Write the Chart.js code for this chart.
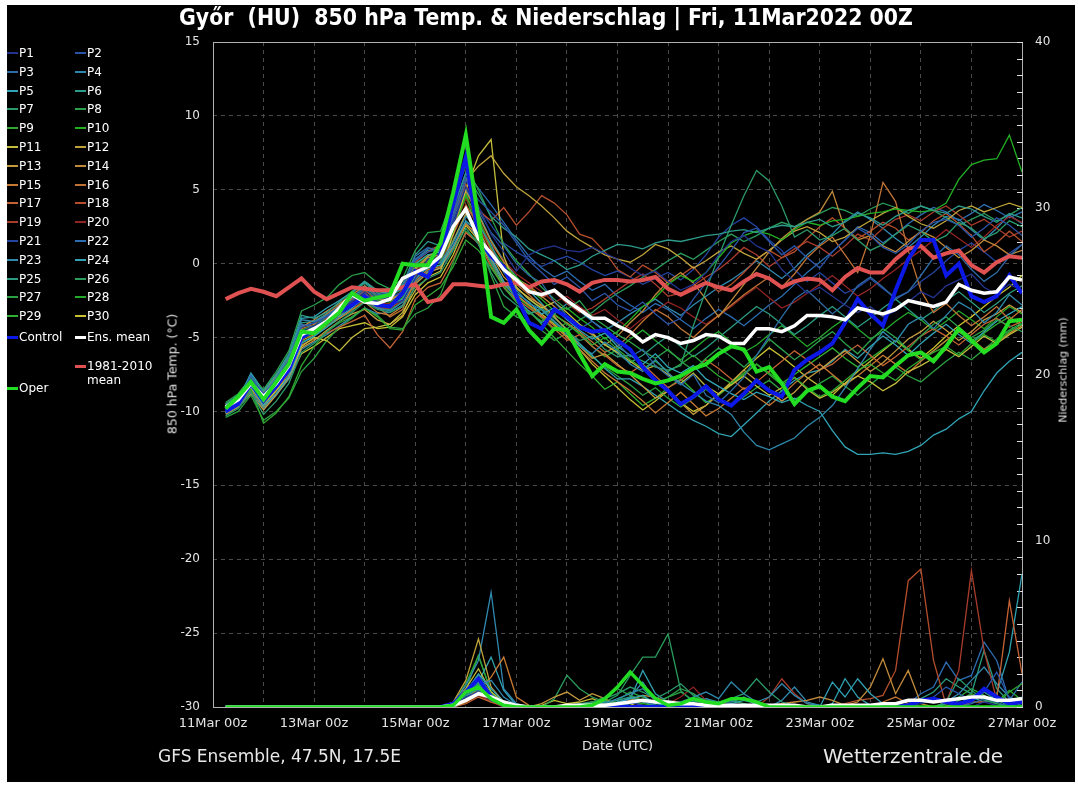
<!DOCTYPE html>
<html>
<head>
<meta charset="utf-8">
<script src="https://cdn.jsdelivr.net/npm/chart.js@4.4.1/dist/chart.umd.min.js"></script>
<style>
  body { margin: 0; background: #fff; width: 1078px; height: 785px; overflow: hidden; font-family: "DejaVu Sans", sans-serif; }
  #panel { position: absolute; left: 7px; top: 5px; width: 1068px; height: 777px; background: #000; }
  #wrap { position: absolute; left: 0; top: 0; width: 1078px; height: 785px; }
  .txt { position: absolute; color: #fff; white-space: nowrap; }
  #title { left: 546px; top: 4px; transform: translateX(-50%) scaleX(0.91); font-weight: bold; font-size: 22.5px; }
  #foot1 { left: 158px; top: 746px; font-size: 17px; color: #e8e8e8; }
  #foot2 { left: 823px; top: 744px; font-size: 20px; color: #e8e8e8; }
  .vlab { position: absolute; color: #e0e0e0; white-space: nowrap; transform: translate(-50%, -50%) rotate(-90deg); }
  #ylab { left: 172px; top: 374px; font-size: 12.5px; }
  #y2lab { left: 1063px; top: 370px; font-size: 11px; }
  .leg { position: absolute; color: #fff; font-size: 12px; line-height: 14px; white-space: nowrap; }
  .mark { position: absolute; height: 2px; }
</style>
</head>
<body>
<div id="panel"></div>
<div id="wrap"><canvas id="c"></canvas></div>
<div id="title" class="txt">Győr&nbsp;&nbsp;(HU)&nbsp;&nbsp;850 hPa Temp. &amp; Niederschlag | Fri, 11Mar2022 00Z</div>
<div id="ylab" class="vlab">850 hPa Temp. (°C)</div>
<div id="y2lab" class="vlab">Niederschlag (mm)</div>
<div id="foot1" class="txt">GFS Ensemble, 47.5N, 17.5E</div>
<div id="foot2" class="txt">Wetterzentrale.de</div>
<div id="legend"></div>
<script>
// forecast lead time (hours after 11Mar2022 00Z)
const leadHours = [6,12,18,24,30,36,42,48,54,60,66,72,78,84,90,96,102,108,114,120,126,132,138,144,150,156,162,168,174,180,186,192,198,204,210,216,222,228,234,240,246,252,258,264,270,276,282,288,294,300,306,312,318,324,330,336,342,348,354,360,366,372,378,384];
const xTickLabels = ['11Mar 00z','13Mar 00z','15Mar 00z','17Mar 00z','19Mar 00z','21Mar 00z','23Mar 00z','25Mar 00z','27Mar 00z'];

// 850 hPa temperature (°C)
const tControl = [-10.0,-9.5,-8.1,-9.3,-8.3,-7.2,-5.0,-4.5, -4.0,-3.3,-2.8,-2.2,-2.8,-2.9,-2.0,-0.5, -0.9,0.6,4.0,7.2,1.8,0.5,-0.2,-2.2, -4.0,-4.4,-3.1,-3.6,-4.3,-4.6,-4.5,-5.2, -5.8,-7.0,-7.9,-8.6,-9.5,-9.0,-8.3,-9.2, -9.6,-8.8,-7.9,-8.6,-9.0,-7.2,-6.5,-6.0, -5.4,-4.0,-2.4,-3.4,-4.2,-1.8,0.3,1.6, 1.6,-0.8,0.0,-2.2,-2.6,-2.2,-0.8,-2.0];
const tMean = [-9.7,-9.2,-8.1,-9.0,-8.1,-6.9,-4.8,-4.4, -3.9,-3.0,-2.1,-2.6,-2.7,-2.4,-1.0,-0.6, -0.2,0.5,2.5,3.7,1.7,0.7,-0.4,-1.1, -1.9,-2.1,-1.8,-2.5,-3.1,-3.7,-3.7,-4.2, -4.6,-5.3,-4.8,-5.0,-5.4,-5.2,-4.8,-4.9, -5.4,-5.4,-4.4,-4.4,-4.6,-4.2,-3.5,-3.5, -3.6,-3.8,-3.0,-3.2,-3.4,-3.1,-2.5,-2.7, -2.9,-2.6,-1.4,-1.8,-2.0,-1.9,-0.9,-1.1];
const tClimate = [-2.4,-2.0,-1.7,-1.9,-2.2,-1.6,-1.0,-1.9, -2.4,-2.0,-1.6,-1.7,-1.8,-1.8,-1.6,-1.4, -2.6,-2.4,-1.4,-1.4,-1.5,-1.6,-1.4,-1.3, -1.6,-1.2,-1.1,-1.4,-1.9,-1.3,-1.1,-1.1, -1.2,-1.1,-0.9,-1.7,-2.1,-1.7,-1.3,-1.6, -1.8,-1.2,-0.7,-1.0,-1.6,-1.2,-1.0,-1.1, -1.8,-0.9,-0.3,-0.6,-0.6,0.3,1.0,1.2, 0.4,0.7,0.9,-0.1,-0.6,0.1,0.5,0.4];
const tOper = [-9.8,-9.0,-8.0,-9.2,-8.0,-6.8,-4.6,-4.7, -4.0,-3.3,-2.0,-2.5,-2.3,-2.1,0.0,-0.1, -0.1,1.4,4.8,8.7,3.0,-3.6,-4.0,-3.1, -4.5,-5.4,-4.4,-4.5,-6.1,-7.6,-6.8,-7.3, -7.4,-7.8,-8.1,-7.9,-7.6,-7.1,-6.8,-6.1, -5.6,-5.8,-7.3,-7.0,-8.1,-9.5,-8.6,-8.3, -9.0,-9.3,-8.4,-7.6,-7.7,-6.9,-6.2,-6.0, -6.6,-5.6,-4.4,-5.2,-6.0,-5.4,-3.9,-3.8];

const tP01 = [-9.9,-9.4,-8.0,-9.2,-8.3,-7.0,-4.6,-4.2, -3.8,-3.1,-2.6,-1.9,-2.7,-2.8,-2.5,-1.0, 0.3,0.4,2.6,5.2,3.9,2.0,0.8,-0.5, 0.6,1.0,1.2,0.9,0.8,1.1,0.7,0.3, -0.3,-0.8,-0.5,-1.2,-1.8,-1.4,-0.6,0.6, 1.5,1.9,1.2,0.8,-0.4,-1.2,-2.0,-1.6, -2.2,-2.8,-3.3,-2.9,-3.6,-3.2,-2.6,-1.9, -2.3,-1.5,-1.1,-0.7,-1.6,-2.1,-1.4,-1.8];
const tP02 = [-9.6,-9.0,-7.8,-8.8,-7.9,-6.6,-4.3,-4.0, -3.6,-3.0,-2.5,-1.7,-2.4,-2.3,-1.9,0.2, 0.8,1.0,3.1,5.6,4.3,3.5,2.6,1.4, 0.2,-0.6,-1.4,-0.9,-1.6,-2.5,-2.0,-2.8, -3.2,-2.6,-3.4,-4.1,-3.7,-2.4,-1.3,-0.2, 0.9,2.1,2.4,1.5,0.6,1.2,0.4,-0.3, 0.8,1.6,2.4,1.9,1.1,0.7,1.3,2.2, 2.8,3.0,2.6,1.8,2.4,3.1,2.6,1.9];
const tP03 = [-9.8,-9.3,-7.6,-9.1,-7.8,-6.5,-4.1,-4.3, -3.5,-2.9,-2.3,-1.6,-2.2,-2.1,-1.6,0.5, 1.1,0.8,3.3,5.9,3.6,2.1,1.2,0.0, -0.8,-1.3,-2.6,-3.5,-4.4,-3.9,-4.6,-5.4, -6.3,-5.8,-6.9,-7.6,-8.2,-7.5,-8.9,-9.4, -8.6,-7.7,-6.2,-4.9,-3.6,-2.4,-1.8,-2.6, -3.4,-2.7,-1.5,-0.9,-1.6,-2.4,-1.9,-0.8, 0.4,1.2,0.6,-0.4,-1.2,-0.6,0.5,1.3];
const tP04 = [-9.7,-9.1,-7.5,-8.8,-7.7,-6.3,-3.8,-3.9, -3.5,-3.1,-2.8,-2.4,-3.0,-3.2,-2.6,-1.1, -0.2,0.1,1.4,3.2,2.6,1.3,-0.6,-1.8, -2.7,-3.1,-3.9,-4.8,-5.6,-6.1,-5.3,-5.9, -6.8,-7.3,-6.5,-7.4,-8.1,-8.7,-9.3,-9.6, -10.2,-11.4,-12.3,-12.6,-12.2,-11.8,-11.0,-10.4, -9.6,-8.4,-7.1,-5.8,-4.6,-5.3,-4.1,-3.6, -4.4,-3.5,-2.6,-3.1,-4.0,-3.3,-2.1,-2.8];
const tP05 = [-10.1,-9.6,-8.3,-9.6,-8.8,-7.6,-5.4,-4.9, -4.3,-3.6,-3.0,-2.3,-2.8,-2.9,-2.4,-0.9, -0.3,-0.1,1.2,2.9,2.1,0.4,-1.2,-2.0, -2.6,-3.4,-3.0,-3.8,-4.5,-5.1,-4.7,-5.6, -6.2,-6.8,-6.1,-7.0,-7.4,-6.9,-7.8,-8.3, -8.8,-9.2,-8.7,-9.0,-9.4,-9.1,-9.6,-10.0, -11.3,-12.4,-12.9,-12.9,-12.8,-12.9,-12.7,-12.3, -11.6,-11.2,-10.5,-10.0,-8.6,-7.4,-6.6,-6.0];
const tP06 = [-9.5,-8.9,-7.9,-8.6,-7.5,-6.2,-3.5,-3.7, -3.3,-2.6,-1.9,-1.2,-1.8,-1.7,-1.4,0.6, 1.5,1.2,3.8,6.1,4.7,3.2,2.4,1.8, 1.0,0.6,0.2,-0.4,-0.1,0.5,0.9,1.3, 1.2,1.0,1.4,1.6,1.5,1.7,1.9,2.0, 2.2,2.3,2.1,2.4,2.6,2.5,2.8,3.0, 2.5,2.8,3.4,3.1,2.6,3.2,3.6,3.9, 3.6,3.4,3.9,3.7,3.2,2.8,3.4,3.1];
const tP07 = [-10.3,-9.8,-8.7,-10.2,-9.3,-8.1,-6.0,-5.4, -4.6,-3.9,-3.3,-2.6,-3.1,-3.3,-2.9,-1.6, -1.0,-0.6,0.9,2.4,1.3,-0.6,-2.1,-2.8, -3.4,-3.1,-4.0,-4.6,-5.2,-4.9,-5.8,-6.3, -6.2,-6.6,-7.0,-7.2,-6.9,-4.2,-1.8,0.5, 2.6,4.6,6.3,5.6,3.9,1.8,2.3,1.6, 1.9,2.4,1.6,0.9,1.3,2.0,2.6,2.2, 1.5,1.9,2.8,2.4,1.7,2.1,2.9,2.5];
const tP08 = [-9.4,-8.8,-7.7,-8.5,-7.3,-5.9,-3.2,-2.8, -2.3,-1.4,-0.8,-0.6,-1.3,-1.7,-1.0,0.9, 2.1,2.2,4.5,6.6,5.0,3.1,1.3,0.2, -0.7,-1.6,-2.4,-3.1,-2.5,-3.6,-4.2,-4.8, -5.3,-5.9,-6.4,-5.8,-6.6,-7.2,-6.4,-5.7, -6.3,-7.0,-6.2,-5.1,-5.8,-6.5,-5.9,-5.2, -4.6,-5.4,-6.1,-5.2,-4.4,-5.0,-5.8,-4.9, -4.1,-3.6,-4.3,-5.0,-4.5,-3.8,-4.2,-4.6];
const tP09 = [-10.0,-9.5,-8.5,-10.8,-10.1,-9.0,-6.9,-5.6, -4.6,-4.0,-3.6,-3.0,-3.6,-4.4,-4.5,-2.8, -2.2,-1.6,-0.2,1.6,0.9,-0.3,-1.5,-2.6, -3.3,-3.9,-3.4,-4.1,-4.7,-5.5,-5.0,-5.8, -6.5,-7.1,-6.6,-7.3,-6.8,-6.2,-6.9,-7.6, -8.1,-7.4,-6.8,-7.5,-8.2,-7.7,-8.4,-9.0, -8.6,-7.9,-7.2,-6.8,-7.4,-7.9,-7.1,-6.5, -6.0,-5.6,-6.2,-5.4,-4.8,-5.3,-4.6,-4.1];
const tP10 = [-9.8,-9.3,-8.2,-9.4,-8.4,-7.2,-5.1,-4.7, -4.1,-3.4,-2.9,-2.2,-2.8,-2.9,-2.3,-0.7, 0.0,0.2,2.2,4.6,3.0,1.1,-0.1,-0.9, -1.7,-2.4,-3.2,-3.0,-3.7,-4.3,-5.1,-4.6, -3.8,-2.9,-2.3,-1.4,-0.8,-1.2,-0.6,0.4, 1.4,1.9,2.2,2.0,1.6,2.3,2.8,2.6, 2.9,3.0,3.2,3.4,3.5,3.7,3.6,3.5, 3.6,4.1,5.7,6.7,7.0,7.1,8.7,6.2];
const tP11 = [-10.0,-9.6,-8.4,-9.5,-8.6,-7.6,-5.6,-5.0, -5.2,-5.9,-5.0,-4.4,-4.3,-4.1,-3.3,-1.8, -0.9,-0.5,2.0,5.0,7.3,8.4,0.5,-1.6, -2.4,-3.0,-2.6,-3.3,-4.1,-4.7,-5.5,-6.0, -6.6,-7.2,-6.9,-7.5,-8.1,-7.4,-8.3,-8.8, -8.2,-7.6,-8.3,-8.9,-8.4,-7.7,-8.5,-9.1, -8.7,-8.1,-7.6,-8.0,-8.6,-8.1,-7.3,-6.9, -6.4,-5.8,-6.3,-5.6,-4.9,-5.4,-4.8,-4.3];
const tP12 = [-9.7,-9.2,-8.2,-9.1,-8.0,-6.8,-4.6,-4.5, -4.0,-3.5,-2.8,-2.1,-2.4,-2.5,-2.0,-0.3, 0.5,0.9,3.4,5.6,6.6,7.3,6.1,5.2, 4.6,3.9,3.1,2.2,1.6,1.1,0.6,0.3, 0.1,0.6,1.3,1.0,0.4,-0.3,0.2,0.8, 1.2,0.7,0.3,0.9,1.6,2.2,2.5,2.1, 1.5,1.8,2.4,2.9,3.4,3.8,3.2,2.7, 2.4,2.9,3.6,3.9,3.5,3.8,4.1,3.8];
const tP13 = [-10.2,-9.7,-8.8,-9.9,-8.9,-7.7,-5.7,-5.2, -4.5,-3.9,-3.4,-3.1,-3.8,-4.1,-3.5,-1.4, -0.6,-0.3,1.5,3.4,2.3,0.6,-0.9,-1.7, -2.3,-2.8,-3.6,-4.5,-5.6,-6.4,-6.1,-6.8, -7.5,-8.3,-9.1,-8.6,-9.4,-10.2,-9.6,-8.8, -8.1,-7.2,-7.9,-8.6,-9.3,-8.7,-7.8,-7.2, -6.5,-5.9,-6.6,-7.3,-6.7,-5.9,-5.1,-4.6, -3.9,-4.5,-5.2,-4.6,-3.8,-3.4,-2.8,-3.3];
const tP14 = [-9.5,-9.0,-7.9,-8.7,-7.6,-6.4,-4.3,-3.8, -3.2,-2.7,-2.1,-1.5,-2.2,-2.4,-2.0,-0.4, 0.4,0.6,2.4,4.9,3.3,1.5,0.1,-1.0, -1.5,-2.2,-2.9,-3.7,-4.3,-4.8,-5.5,-4.9, -4.0,-3.2,-2.1,-1.2,-0.6,-1.3,-2.4,-3.6, -2.5,-1.4,-0.3,0.8,1.7,2.4,3.0,3.5, 4.9,2.3,1.6,1.9,1.2,0.8,1.5,2.2, 1.8,1.1,0.4,0.9,1.6,1.2,0.6,0.9];
const tP15 = [-9.9,-9.4,-8.3,-9.3,-8.2,-7.1,-5.2,-4.8, -4.2,-3.7,-3.1,-2.6,-3.3,-3.5,-2.9,-1.2, -0.4,-0.2,1.1,2.7,1.9,0.3,-1.2,-2.1, -2.8,-3.5,-4.2,-5.0,-5.8,-6.6,-7.4,-8.0, -8.6,-9.3,-10.1,-9.4,-8.7,-9.5,-10.3,-9.8, -9.1,-8.4,-9.0,-9.6,-8.9,-8.1,-7.4,-6.8, -7.5,-8.2,-7.6,-6.9,-6.2,-6.8,-7.4,-6.6, -5.9,-5.2,-4.6,-5.1,-5.8,-5.3,-4.7,-4.2];
const tP16 = [-9.6,-9.1,-8.0,-8.9,-7.8,-6.5,-4.4,-4.1, -3.4,-2.8,-2.4,-1.9,-2.9,-3.6,-3.1,-1.0, 0.2,0.5,2.0,3.9,2.8,1.0,-0.4,-1.4, -2.1,-2.9,-3.5,-4.0,-4.6,-5.3,-6.0,-5.6, -4.8,-3.9,-3.1,-3.6,-4.4,-5.0,-4.2,-3.5, -2.8,-2.1,-1.5,-0.9,-1.6,-0.7,0.4,1.2, 1.8,0.6,-0.6,1.9,5.5,4.2,0.9,-1.8, -3.3,-2.7,-3.5,-4.2,-3.6,-2.9,-3.8,-3.1];
const tP17 = [-10.0,-9.6,-8.5,-9.6,-8.6,-7.4,-5.5,-5.1, -4.7,-4.3,-3.9,-3.5,-4.8,-5.7,-4.6,-2.4, -1.6,-1.3,0.3,2.1,1.4,-0.2,-1.6,-2.4, -3.0,-3.6,-4.4,-5.2,-4.8,-5.6,-6.2,-6.9, -7.4,-6.8,-7.6,-8.4,-7.9,-7.2,-6.5,-7.1, -7.8,-8.5,-8.0,-7.3,-6.6,-5.9,-6.5,-7.2, -6.8,-6.1,-5.5,-6.2,-6.9,-6.3,-5.6,-4.9, -4.4,-4.9,-5.5,-4.8,-4.1,-3.7,-4.3,-3.9];
const tP18 = [-9.7,-9.2,-8.1,-9.1,-8.2,-7.0,-4.9,-4.5, -3.7,-3.2,-2.6,-1.8,-2.4,-2.5,-1.8,0.1, 0.8,1.3,3.2,5.4,3.6,2.9,3.8,2.6, 3.5,4.6,4.1,3.3,2.0,1.7,0.8,-0.4, -0.9,-0.1,-0.6,-1.3,-0.8,-0.2,-1.2,-1.9, -1.4,-0.6,0.3,0.9,0.4,0.8,1.7,2.5, 3.1,2.4,1.7,2.2,2.8,2.4,1.6,2.1, 2.9,3.4,2.7,1.9,0.8,1.4,2.2,1.5];
const tP19 = [-9.8,-9.3,-8.2,-9.2,-8.3,-7.2,-5.1,-4.6, -4.1,-3.6,-3.1,-2.5,-3.0,-3.0,-2.5,-0.8, -0.1,0.1,1.9,4.0,2.5,0.9,-0.3,-1.2, -1.6,-2.3,-1.9,-2.7,-3.3,-3.0,-2.4,-1.8, -1.2,-0.7,-1.4,-2.2,-2.0,-1.5,-0.9,-0.4, 0.3,1.1,0.6,-0.2,0.4,1.0,1.5,1.1, 0.5,1.2,2.0,1.6,2.4,3.0,3.3,2.9, 3.5,3.9,3.3,2.6,3.0,2.4,1.8,2.2];
const tP20 = [-9.6,-9.1,-8.0,-8.9,-8.0,-6.8,-4.7,-4.4, -3.9,-3.3,-2.7,-2.1,-2.7,-2.7,-2.2,-0.5, 0.1,0.3,2.3,4.4,3.0,1.3,0.2,-0.7, -1.3,-1.9,-2.6,-2.2,-2.9,-3.5,-3.1,-3.8, -4.4,-3.7,-3.2,-2.6,-3.0,-3.6,-4.1,-3.5, -2.9,-2.2,-1.6,-2.3,-3.0,-2.6,-2.0,-1.4, -0.8,-1.5,-2.2,-1.7,-1.0,-0.4,0.3,0.9, 1.6,2.3,1.7,1.1,1.8,2.6,3.2,2.8];
const tP21 = [-9.9,-9.5,-8.3,-9.4,-8.5,-7.3,-5.0,-4.6, -4.0,-3.4,-2.8,-2.0,-2.6,-2.5,-2.0,-0.4, 0.5,0.7,2.9,5.1,3.8,2.6,1.4,0.8, 0.3,-0.2,0.2,0.5,0.1,-0.4,-0.8,-0.5, -0.9,-1.4,-1.0,-0.6,-1.1,-0.4,0.6,1.8, 2.6,3.1,2.5,1.6,0.9,-0.4,-1.2,-0.6, -1.3,-2.0,-1.6,-1.0,-1.7,-2.3,-1.9,-1.2, -0.6,0.2,0.9,1.4,0.8,0.1,0.7,1.3];
const tP22 = [-9.5,-9.0,-7.7,-8.7,-7.6,-6.4,-4.2,-4.0, -3.5,-2.9,-2.3,-1.5,-2.1,-2.0,-1.5,0.3, 1.0,1.1,3.6,6.2,5.1,4.0,2.8,1.6, 0.5,-0.3,-0.9,-0.5,-1.2,-1.8,-1.4,-2.2, -2.8,-3.3,-2.7,-3.1,-3.8,-4.4,-3.7,-3.1, -3.6,-4.2,-3.5,-2.8,-2.2,-1.4,-0.6,0.1, 0.8,1.6,2.5,2.1,1.4,2.0,2.7,3.3, 3.8,3.5,2.9,3.4,4.0,3.6,3.1,3.5];
const tP23 = [-10.1,-9.7,-8.6,-9.8,-8.9,-7.8,-5.8,-5.3, -4.8,-4.2,-3.6,-3.0,-3.4,-3.3,-2.8,-1.3, -0.5,-0.3,1.0,2.8,1.7,0.2,-1.3,-2.4, -3.2,-4.0,-3.4,-2.7,-3.2,-3.9,-4.5,-4.0, -3.4,-2.9,-2.4,-3.0,-3.5,-2.8,-2.2,-1.6, -1.1,-0.5,0.2,-0.4,-1.0,-0.3,0.6,1.3, 2.0,2.9,3.5,3.0,2.4,1.7,1.1,1.8, 2.6,3.2,3.0,2.3,1.6,2.4,3.3,2.7];
const tP24 = [-9.8,-9.2,-7.4,-8.6,-7.5,-6.1,-3.7,-3.6, -3.0,-2.5,-1.9,-1.2,-1.9,-2.0,-1.7,0.0, 0.6,0.8,2.7,5.0,3.4,1.6,0.2,-0.9, -1.8,-2.7,-3.6,-4.5,-5.4,-6.2,-7.1,-7.8, -7.8,-8.3,-8.9,-9.5,-10.1,-10.6,-11.0,-11.5, -11.7,-10.9,-10.1,-9.3,-8.6,-7.9,-7.4,-7.2, -6.6,-5.8,-6.4,-5.6,-4.9,-5.5,-6.2,-5.4, -4.7,-4.1,-4.8,-5.4,-4.6,-3.9,-3.4,-2.9];
const tP25 = [-9.6,-9.0,-7.9,-8.8,-7.7,-6.3,-4.0,-3.9, -3.4,-2.8,-2.0,-1.3,-2.0,-2.2,-1.7,0.2, 0.9,0.9,3.0,5.3,3.1,1.0,-0.5,-1.6, -2.4,-3.1,-3.9,-4.6,-4.1,-4.8,-5.4,-6.1, -6.7,-6.2,-5.5,-4.9,-5.6,-6.3,-5.7,-5.0, -4.3,-3.6,-2.9,-3.4,-4.1,-4.8,-4.2,-3.5, -2.9,-3.6,-4.3,-3.7,-3.0,-2.4,-3.1,-3.8, -3.2,-2.5,-1.9,-2.6,-3.3,-2.7,-2.0,-1.5];
const tP26 = [-9.9,-9.4,-8.4,-9.5,-8.4,-7.4,-5.3,-4.9, -4.3,-3.7,-3.2,-2.4,-3.0,-3.1,-2.6,-1.0, -0.2,-0.1,1.6,3.3,2.0,0.0,-1.6,-2.6, -3.4,-3.0,-3.7,-4.4,-3.8,-3.3,-2.6,-2.0, -1.5,-0.9,-0.4,0.2,0.7,0.3,0.9,1.5, 2.0,1.5,1.9,2.4,2.8,2.5,3.0,3.4, 3.8,3.6,3.2,3.7,4.1,3.8,3.4,3.9, 3.6,3.1,2.6,3.0,3.4,2.9,3.3,3.8];
const tP27 = [-10.4,-10.0,-8.9,-10.6,-10.0,-9.1,-7.3,-6.4, -5.2,-4.3,-3.7,-3.0,-3.5,-4.3,-4.4,-3.4, -3.0,-2.1,0.1,2.2,1.5,-0.8,-2.9,-3.6, -3.9,-4.5,-5.2,-4.7,-5.5,-6.3,-7.0,-7.6, -8.2,-8.9,-8.4,-9.1,-9.7,-9.1,-8.5,-9.2, -9.6,-9.0,-8.4,-7.9,-8.6,-9.2,-8.7,-8.1, -7.6,-8.3,-8.9,-8.2,-7.5,-7.0,-7.6,-8.0, -7.3,-6.6,-6.0,-6.5,-5.8,-5.1,-4.5,-4.0];
const tP28 = [-9.7,-9.1,-8.0,-9.0,-7.9,-6.6,-4.5,-4.2, -3.6,-3.0,-2.4,-1.6,-2.3,-2.4,-1.9,-0.1, 0.6,0.5,2.6,4.8,2.4,0.4,-1.3,-2.2, -2.9,-3.7,-4.5,-4.0,-4.8,-5.6,-6.3,-5.8, -5.1,-4.5,-5.2,-5.9,-6.5,-5.8,-5.1,-4.6, -5.3,-6.0,-5.5,-4.8,-4.2,-4.9,-5.6,-5.0, -4.3,-3.7,-4.4,-5.1,-4.6,-3.9,-3.3,-3.8, -4.5,-3.9,-3.2,-3.8,-4.4,-3.6,-2.9,-3.4];
const tP29 = [-9.8,-9.3,-8.1,-9.2,-8.0,-6.7,-4.5,-4.3, -3.7,-3.1,-2.6,-1.8,-2.5,-2.6,-2.1,-0.3, 0.3,0.4,2.4,4.5,2.2,0.1,-1.6,-2.5, -3.2,-4.1,-5.0,-5.9,-6.8,-7.6,-8.5,-8.0, -8.8,-9.6,-9.1,-8.4,-7.8,-8.6,-9.4,-8.9, -8.2,-7.5,-6.8,-7.4,-8.1,-7.5,-6.9,-6.3, -5.7,-6.4,-7.0,-6.4,-5.8,-5.2,-5.9,-6.5, -5.9,-5.2,-4.6,-5.2,-4.7,-4.1,-3.6,-4.2];
const tP30 = [-10.1,-9.7,-8.6,-9.7,-8.8,-7.8,-6.1,-5.6, -5.0,-4.4,-4.2,-4.0,-4.4,-4.3,-3.6,-2.1, -1.3,-0.9,0.6,2.6,1.6,0.0,-1.4,-2.2, -2.8,-3.4,-4.1,-4.9,-5.8,-6.8,-7.6,-8.4, -9.2,-9.9,-9.3,-8.6,-9.4,-10.0,-9.6,-8.8, -8.0,-7.2,-6.4,-5.7,-6.3,-7.0,-7.7,-8.3, -8.9,-8.1,-7.3,-6.6,-5.9,-5.2,-5.8,-6.4, -5.7,-4.9,-4.2,-3.6,-2.9,-2.2,-1.6,-0.8];

// 6-hourly precipitation (mm)
const rControl = [0,0,0,0,0,0,0,0, 0,0,0,0,0,0,0,0, 0,0,0.2,0.9,1.7,0.6,0.1,0, 0,0,0,0,0,0,0,0, 0,0,0,0,0,0,0,0, 0,0,0,0,0,0,0,0, 0,0,0,0,0,0,0.1,0.4, 0.5,0.3,0.2,0.4,1.1,0.6,0.2,0.3];
const rMean = [0,0,0,0,0,0,0,0, 0,0,0,0,0,0,0,0, 0,0,0.1,0.4,0.8,0.6,0.3,0.1, 0,0,0,0.1,0.1,0.1,0.1,0.2, 0.3,0.4,0.3,0.3,0.2,0.2,0.1,0.1, 0.1,0.1,0.1,0.1,0.1,0.1,0,0, 0.1,0.1,0.1,0.1,0.2,0.2,0.4,0.4, 0.3,0.4,0.5,0.6,0.6,0.4,0.4,0.5];
const rOper = [0,0,0,0,0,0,0,0, 0,0,0,0,0,0,0,0, 0,0,0.1,0.9,1.2,0.5,0.1,0, 0,0,0,0,0,0.1,0.5,1.2, 2.1,1.3,0.5,0.1,0.2,0.5,0.3,0.2, 0.5,0.5,0.3,0,0,0,0,0, 0,0,0,0,0,0,0,0, 0,0,0,0,0,0,0,0];

const rP01 = [0,0,0,0,0,0,0,0, 0,0,0,0,0,0,0,0, 0,0,0.1,0.6,0.9,0.4,0.1,0, 0,0,0,0,0,0,0,0, 0,0,0,0,0,0,0,0, 0,0,0,0,0,0,0,0, 0,0,0,0,0,0,0,0.2, 0.4,0.2,0,0,0.3,0.1,0,0];
const rP02 = [0,0,0,0,0,0,0,0, 0,0,0,0,0,0,0,0, 0,0,0.2,0.8,1.2,0.5,0.2,0, 0,0,0,0,0,0,0.1,0.2, 0.3,0.1,0,0,0,0,0,0, 0,0,0,0,0,0,0,0, 0,0,0,0,0,0,0.1,0.3, 0.6,1.2,0.8,0.4,0.9,2.1,0.5,0.2];
const rP03 = [0,0,0,0,0,0,0,0, 0,0,0,0,0,0,0,0, 0,0,0,0.4,1.0,0.6,0.3,0, 0,0,0,0,0,0,0,0, 0.2,0.4,0.1,0,0,0,0,0, 0,0,0,0,0,0,0,0, 0,0,0,0,0,0,0,0, 0,0,0,0.2,0.5,0.3,0,0];
const rP04 = [0,0,0,0,0,0,0,0, 0,0,0,0,0,0,0,0, 0,0,0.1,0.5,1.3,1.6,0.6,0.1, 0,0,0,0,0,0,0.2,0.5, 0.8,1.1,0.4,0.2,0.3,0.6,0.9,0.5, 1.5,0.8,0.3,0.6,1.4,0.7,0.2,0.1, 0,0,0,0,0,0,0,0, 0,0,0,0,0,0,0,0];
const rP05 = [0,0,0,0,0,0,0,0, 0,0,0,0,0,0,0,0, 0,0,0.2,0.9,2.0,1.1,0.3,0, 0,0,0,0,0,0,0,0.3, 0.5,0.7,0.2,0.1,0.2,0.4,0.3,0.1, 0.2,0.4,0.2,0.1,0,0,0,0, 1.5,0.6,1.7,0.8,0.2,0,0,0, 0,0,0,0,0,0,0.3,0.6];
const rP06 = [0,0,0,0,0,0,0,0, 0,0,0,0,0,0,0,0, 0,0,0.1,0.7,1.1,0.4,0.1,0, 0,0,0,0,0,0.1,0.3,0.4, 0.6,0.3,0.1,0,0,0.2,0.1,0, 0,0,0,0,0,0,0,0, 0,0,0,0,0,0,0,0, 0,0.2,0.6,0.3,0.9,0.4,0.1,0];
const rP07 = [0,0,0,0,0,0,0,0, 0,0,0,0,0,0,0,0, 0,0,0.2,1.0,1.9,0.8,0.2,0, 0,0,0,0.1,0.2,0.3,0.5,0.8, 1.2,0.9,0.5,0.9,1.4,0.7,0.4,0.3, 0.5,0.8,1.7,0.9,0.3,0.1,0,0, 0,0,0,0,0,0,0,0, 0,0.3,1.7,1.0,0.4,0.2,0,0];
const rP08 = [0,0,0,0,0,0,0,0, 0,0,0,0,0,0,0,0, 0,0,0.1,0.6,1.4,0.7,0.2,0, 0,0,0,0,0.1,0.3,0.6,1.1, 0.7,0.4,0.2,0.6,1.1,0.8,0.3,0.1, 0,0,0,0,0,0,0,0, 0,0,0,0,0,0,0,0, 0,0,0,0,0,0,0,0];
const rP09 = [0,0,0,0,0,0,0,0, 0,0,0,0,0,0,0,0, 0,0,0,0.4,0.9,0.5,0.1,0, 0,0,0,0,0,0.2,0.4,0.2, 0.1,0,0,0,0,0,0,0, 0,0,0,0,0,0,0,0, 0,0,0,0,0,0,0,0, 0,0,0.4,0.8,0.5,0.2,0.9,1.4];
const rP10 = [0,0,0,0,0,0,0,0, 0,0,0,0,0,0,0,0, 0,0,0.1,0.8,1.6,0.6,0.1,0, 0,0,0,0,0,0,0,0.1, 0.3,0.2,0.1,0,0,0,0,0, 0,0,0,0,0,0,0,0, 0,0,0,0,0,0,0,0, 0,0,0,0,0,0,0,0];
const rP11 = [0,0,0,0,0,0,0,0, 0,0,0,0,0,0,0,0, 0,0,0.2,1.1,2.3,0.9,0.3,0.1, 0,0,0,0,0,0,0,0, 0,0,0,0,0,0,0,0, 0,0,0,0,0,0,0,0, 0,0,0,0,0,0,0,0, 0,0,0,0,0,0,0,0];
const rP12 = [0,0,0,0,0,0,0,0, 0,0,0,0,0,0,0,0, 0,0,0.3,1.6,4.1,1.2,0.3,0, 0,0,0,0,0.1,0.3,0.2,0, 0,0,0,0,0,0,0,0, 0,0,0,0,0,0,0,0, 0,0,0,0,0,0,0,0, 0,0,0,0,0,0,0,0];
const rP13 = [0,0,0,0,0,0,0,0, 0,0,0,0,0,0,0,0, 0,0,0.1,0.5,1.2,0.7,0.2,0, 0,0.2,0.6,0.9,0.4,0.8,0.5,0.1, 0.4,0.7,0.6,0.3,0.2,0.5,0.3,0.1, 0,0,0,0,0,0,0,0, 0,0,0,0,0,0,0,0, 0,0,0,0,0,0,0,0];
const rP14 = [0,0,0,0,0,0,0,0, 0,0,0,0,0,0,0,0, 0,0,0,0.3,0.8,0.6,0.2,0, 0,0,0,0,0,0,0,0, 0,0,0,0,0,0,0,0, 0,0,0,0.1,0.2,0.3,0.4,0.6, 0.4,0.1,0.3,1.2,2.9,0.8,2.2,0.2, 0,0,0,0,0,0,0,0];
const rP15 = [0,0,0,0,0,0,0,0, 0,0,0,0,0,0,0,0, 0,0,0,0.3,1.0,1.8,3.0,0.6, 0.1,0,0,0,0,0,0,0, 0,0,0,0,0,0,0,0, 0,0,0,0,0,0,0,0, 0,0,0,0,0,0,0,0, 0,0,0,0,0,0,0,0];
const rP16 = [0,0,0,0,0,0,0,0, 0,0,0,0,0,0,0,0, 0,0,0.1,0.4,0.9,0.5,0.1,0, 0,0,0,0,0,0,0,0, 0,0,0,0,0,0,0,0, 0,0,0,0,0,0,0,0, 0,0,0,0,0.3,0.6,0.2,0, 0,0,0,0,0,0,0,0];
const rP17 = [0,0,0,0,0,0,0,0, 0,0,0,0,0,0,0,0, 0,0,0,0.2,0.6,0.3,0.1,0, 0,0,0,0,0,0,0,0, 0,0,0,0,0,0,0,0, 0,0,0,0,0,0,0,0, 0,0,0,0,0,0,0,0, 0,0,0,0.3,0.3,0.5,6.4,2.0];
const rP18 = [0,0,0,0,0,0,0,0, 0,0,0,0,0,0,0,0, 0,0,0.1,0.5,1.0,0.4,0.1,0, 0,0,0,0,0,0,0,0, 0,0,0,0,0,0,0,0, 0,0,0,0,0,0,0,0, 0,0.2,0.4,0.5,0.7,2.2,7.6,8.3, 2.8,0.1,0,0,0,0,0,0];
const rP19 = [0,0,0,0,0,0,0,0, 0,0,0,0,0,0,0,0, 0,0,0,0.3,0.7,0.4,0,0, 0,0,0,0,0,0,0,0, 0,0,0,0,0,0,0,0, 0,0,0,0.6,1.7,0.8,0.2,0, 0,0,0,0,0,0,0,0, 0,0.3,2.2,8.2,3.4,0.4,0.2,0.5];
const rP20 = [0,0,0,0,0,0,0,0, 0,0,0,0,0,0,0,0, 0,0,0.1,0.4,0.8,0.3,0,0, 0,0,0,0,0,0,0,0, 0,0.2,0.5,0.2,0.6,1.2,0.4,0.1, 0,0,0,0,0,0,0,0, 0,0,0,0,0,0,0,0, 0,0,0,0,0,0,0,0];
const rP21 = [0,0,0,0,0,0,0,0, 0,0,0,0,0,0,0,0, 0,0,0.3,1.1,1.7,0.6,0.1,0, 0,0,0,0,0,0,0,0, 0,0,0,0,0,0,0,0, 0,0,0,0,0,0,0,0, 0,0,0,0,0,0,0,0, 0,0,0,0,0,0,0,0];
const rP22 = [0,0,0,0,0,0,0,0, 0,0,0,0,0,0,0,0, 0,0,0.2,0.9,1.4,0.5,0.1,0, 0,0,0,0,0,0,0,0, 0,0,0,0,0,0,0,0, 0,0,0,0,0,0,0,0, 0,0,0,0,0,0,0.2,0.8, 1.2,2.7,1.6,1.9,3.9,2.8,0.4,1.5];
const rP23 = [0,0,0,0,0,0,0,0, 0,0,0,0,0,0,0,0, 0,0,0.2,1.3,2.8,6.9,1.1,0.2, 0,0,0,0,0,0.2,0.4,0.1, 0.6,1.5,0.3,0.1,0.2,0.4,0.5,0.3, 0.3,0.6,0.1,0,0.4,1.2,0.3,0.1, 0,0,0,0,0,0,0,0, 0,0.3,0.8,1.6,2.4,1.4,0.6,0.3];
const rP24 = [0,0,0,0,0,0,0,0, 0,0,0,0,0,0,0,0, 0,0,0,0.8,1.5,3.0,1.0,0.1, 0,0,0,0,0,0,0,0.3, 0.5,2.2,0.8,0.3,0.1,0,0,0, 0,0,0,0,0,0,0,0, 0.2,1.7,0.6,0.1,0,0,0,0, 0,0,0.2,0.6,0.3,0.8,3.3,8.0];
const rP25 = [0,0,0,0,0,0,0,0, 0,0,0,0,0,0,0,0, 0,0,0.1,0.6,1.3,0.6,0.1,0, 0,0,0,0,0,0,0,0, 0,0,0,0,0,0,0,0, 0,0,0,0,0,0,0,0, 0,0,0,0,0,0,0.2,0.5, 0.9,1.7,1.2,0.8,3.4,1.1,0.3,0.1];
const rP26 = [0,0,0,0,0,0,0,0, 0,0,0,0,0,0,0,0, 0,0,0.1,0.7,1.5,0.6,0.2,0, 0,0,0.5,1.9,1.1,0.6,0.3,0.7, 1.9,3.0,3.0,4.4,1.0,0.3,0.5,0.2, 0.4,0.2,0,0,0,0,0,0, 0,0,0,0,0,0,0,0, 0,0,0,0,0,0,0,0];
const rP27 = [0,0,0,0,0,0,0,0, 0,0,0,0,0,0,0,0, 0,0,0.2,1.0,3.1,0.9,0.2,0, 0,0,0,0,0,0.1,0.2,0.4, 0.9,0.6,0.3,0.6,0.9,0.4,0.2,0.1, 0,0,0,0,0,0,0,0, 0,0,0,0,0,0,0,0, 0,0,0,0,0,0,0,0];
const rP28 = [0,0,0,0,0,0,0,0, 0,0,0,0,0,0,0,0, 0,0,0.1,0.5,1.1,0.4,0.1,0, 0,0,0,0,0,0,0,0, 0,0,0,0,0,0,0,0, 0,0,0,0,0,0,0,0, 0,0,0,0,0,0,0,0, 0,0.2,0.6,1.1,0.7,0.3,1.0,0.4];
const rP29 = [0,0,0,0,0,0,0,0, 0,0,0,0,0,0,0,0, 0,0,0.2,1.4,3.1,0.9,0.2,0, 0,0,0,0,0,0,0,0, 0,0,0,0,0,0,0,0, 0,0,0,0,0,0,0,0, 0,0,0,0,0,0,0,0, 0,0,0,0,0,0,0,0];
const rP30 = [0,0,0,0,0,0,0,0, 0,0,0,0,0,0,0,0, 0,0,0.1,0.6,1.0,0.5,0.1,0, 0,0.1,0.4,0.2,0.3,0.5,0.2,0, 0.1,0.4,0.3,0.1,0,0,0,0, 0,0,0,0,0,0,0,0, 0,0,0,0,0,0,0,0, 0,0,0,0,0,0,0,0];

const memberNames = ['P1','P2','P3','P4','P5','P6','P7','P8','P9','P10','P11','P12','P13','P14','P15','P16','P17','P18','P19','P20','P21','P22','P23','P24','P25','P26','P27','P28','P29','P30'];
const memberColors = ['#23338f','#2a54a8','#2e6aa6','#2f88ac','#30a4b6','#2d9c8c','#2b9a6a','#2aa04c','#2fa832','#23b023',
                      '#c4bc3c','#bfa33a','#c49a3e','#c08a3a','#c77a32','#bf7234','#c46234','#b44e2c','#a83c2c','#922424',
                      '#2344a0','#2c6cb0','#3189b0','#30a2b2','#2b9c80','#2a9c5c','#2aa040','#24a82a','#2fb030','#c8c032'];
const memberTemps = [tP01,tP02,tP03,tP04,tP05,tP06,tP07,tP08,tP09,tP10,tP11,tP12,tP13,tP14,tP15,tP16,tP17,tP18,tP19,tP20,tP21,tP22,tP23,tP24,tP25,tP26,tP27,tP28,tP29,tP30];
const memberPrecip = [rP01,rP02,rP03,rP04,rP05,rP06,rP07,rP08,rP09,rP10,rP11,rP12,rP13,rP14,rP15,rP16,rP17,rP18,rP19,rP20,rP21,rP22,rP23,rP24,rP25,rP26,rP27,rP28,rP29,rP30];

const COL_CONTROL = '#0c18e6', COL_MEAN = '#ffffff', COL_CLIM = '#e05252', COL_OPER = '#22dd22';

function pts(vals) {
  return leadHours.map((h, i) => ({ x: h, y: vals[i] }));
}
function line(label, vals, color, width, axis, order) {
  return { label, data: pts(vals), borderColor: color, borderWidth: width, pointRadius: 0, tension: 0, yAxisID: axis, order };
}

const datasets = [];
memberTemps.forEach((t, i) => datasets.push(line(memberNames[i], t, memberColors[i], 1.3, 'y', 20)));
memberPrecip.forEach((r, i) => datasets.push(line(memberNames[i] + ' RR', r, memberColors[i], 1.3, 'y2', 21)));
datasets.push(line('Control RR', rControl, COL_CONTROL, 4, 'y2', 9));
datasets.push(line('Ens. mean RR', rMean, COL_MEAN, 3.5, 'y2', 8));
datasets.push(line('Oper RR', rOper, COL_OPER, 3.5, 'y2', 7));
datasets.push(line('1981-2010 mean', tClimate, COL_CLIM, 4, 'y', 4));
datasets.push(line('Control', tControl, COL_CONTROL, 4, 'y', 3));
datasets.push(line('Ens. mean', tMean, COL_MEAN, 3.5, 'y', 2));
datasets.push(line('Oper', tOper, COL_OPER, 4, 'y', 1));

// frame around the plot and the small inner ticks of the precipitation axis
const framePlugin = {
  id: 'frame',
  beforeDatasetsDraw(chart) {
    const { ctx, chartArea: a, scales } = chart;
    ctx.save();
    ctx.strokeStyle = '#b0b0b0';
    ctx.lineWidth = 1;
    ctx.strokeRect(a.left + 0.5, a.top + 0.5, a.right - a.left, a.bottom - a.top);
    ctx.strokeStyle = '#e0e0e0';
    scales.y2.ticks.forEach(t => {
      const y = Math.round(scales.y2.getPixelForValue(t.value)) + 0.5;
      ctx.beginPath();
      ctx.moveTo(a.right - 5, y);
      ctx.lineTo(a.right + 1, y);
      ctx.stroke();
    });
    ctx.restore();
  }
};

Chart.defaults.font.family = '"DejaVu Sans", sans-serif';
Chart.defaults.color = '#e4e4e4';

new Chart(document.getElementById('c'), {
  type: 'line',
  data: { datasets },
  options: {
    responsive: true,
    maintainAspectRatio: false,
    animation: false,
    layout: { padding: { top: 42, left: 0, right: 0, bottom: 0 } },
    plugins: { legend: { display: false }, tooltip: { enabled: false } },
    scales: {
      x: {
        type: 'linear', min: 0, max: 384,
        afterFit: s => { s.height = 78; },
        ticks: {
          stepSize: 24, autoSkip: false, maxRotation: 0, padding: 9,
          font: { size: 13 },
          callback: v => (v % 48 === 0 ? xTickLabels[v / 48] : '')
        },
        grid: { color: '#4a4a4a', drawTicks: false },
        border: { display: false, dash: [4, 4] },
        title: { display: true, text: 'Date (UTC)', font: { size: 13 }, padding: { top: 0, bottom: 31 } }
      },
      y: {
        position: 'left', min: -30, max: 15,
        afterFit: s => { s.width = 213; },
        ticks: { stepSize: 5, padding: 13, font: { size: 12 } },
        grid: { color: '#4a4a4a', drawTicks: false },
        border: { display: false, dash: [4, 4] }
      },
      y2: {
        position: 'right', min: 0, max: 40,
        afterFit: s => { s.width = 56; },
        ticks: { stepSize: 1, autoSkip: false, padding: 13, font: { size: 12 },
                 callback: v => (v % 10 === 0 ? v : '') },
        grid: { display: false, drawTicks: false },
        border: { display: false }
      }
    }
  },
  plugins: [framePlugin]
});

// legend, laid out in two columns on the left like the original
const legend = document.getElementById('legend');
function addLegend(text, color, x, y, thick) {
  const m = document.createElement('div');
  m.className = 'mark';
  m.style.left = x + 'px';
  m.style.top = (y - (thick ? 1.5 : 1)) + 'px';
  m.style.width = '11px';
  m.style.height = (thick ? 3 : 2) + 'px';
  m.style.background = color;
  legend.appendChild(m);
  const t = document.createElement('div');
  t.className = 'leg';
  t.style.left = (x + 12) + 'px';
  t.style.top = (y - 7) + 'px';
  t.innerHTML = text;
  legend.appendChild(t);
}
memberNames.forEach((n, i) => {
  const col = i % 2, row = Math.floor(i / 2);
  addLegend(n, memberColors[i], col ? 75 : 7, 53 + row * 18.8, false);
});
addLegend('Control', COL_CONTROL, 7, 337, true);
addLegend('Ens. mean', COL_MEAN, 75, 337, true);
addLegend('1981-2010<br>mean', COL_CLIM, 75, 366, true);
addLegend('Oper', COL_OPER, 7, 388, true);
</script>
</body>
</html>
